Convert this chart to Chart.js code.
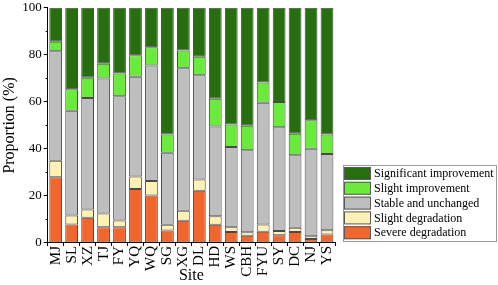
<!DOCTYPE html>
<html>
<head>
<meta charset="utf-8">
<script src="https://cdn.jsdelivr.net/npm/chart.js@4.4.0/dist/chart.umd.min.js"></script>
<style>
  html, body { margin: 0; padding: 0; background: #fff; }
  #wrap { width: 498px; height: 285px; position: relative; }
</style>
</head>
<body>
<div id="wrap"><canvas id="chart"></canvas></div>
<script>
const sites = ['MJ', 'SL', 'XZ', 'TJ', 'FY', 'YQ', 'WQ', 'SG', 'XG', 'DL', 'HD', 'WS', 'CBH', 'FYU', 'SY', 'DC', 'NJ', 'YS'];

// proportions (%) per site
const severeDegradation = [28.0, 7.8, 10.7, 6.7, 6.7, 22.9, 20.2, 5.3, 9.4, 22.2, 7.7, 4.7, 3.1, 4.8, 3.3, 4.7, 1.7, 3.6];
const slightDegradation = [7.0, 3.9, 3.5, 5.8, 2.8, 5.4, 6.1, 2.4, 4.3, 4.8, 3.7, 2.0, 1.5, 3.0, 1.8, 1.8, 1.1, 1.8];
const stableUnchanged = [46.5, 44.5, 47.5, 57.5, 52.9, 42.4, 49.2, 30.7, 60.6, 44.3, 38.1, 34.1, 34.8, 51.8, 44.1, 30.8, 37.3, 32.4];
const slightImprovement = [4.1, 9.2, 8.6, 6.2, 9.7, 9.1, 7.7, 7.7, 7.6, 7.9, 11.8, 9.6, 10.5, 8.7, 10.8, 9.1, 12.1, 8.3];
const significantImprovement = [14.4, 34.6, 29.7, 23.8, 27.9, 20.2, 16.8, 53.9, 18.1, 20.8, 38.7, 49.6, 50.1, 31.7, 40.0, 53.6, 47.8, 53.9];

const yTicks = [0, 20, 40, 60, 80, 100];
const yMinorTicks = [10, 30, 50, 70, 90];

const serif = '"Liberation Serif", "Times New Roman", serif';

function makeSet(label, data, color) {
    return {
        label: label,
        data: data,
        backgroundColor: color,
        borderColor: '#4a4a4a',
        borderWidth: 1,
        borderSkipped: false,
        barPercentage: 0.8,
        categoryPercentage: 1.0
    };
}

// small outward minor ticks on the y axis
const minorTicks = {
    id: 'minorTicks',
    afterDraw(chart) {
        const ctx = chart.ctx;
        const y = chart.scales.y;
        ctx.save();
        ctx.strokeStyle = '#000';
        ctx.lineWidth = 1;
        yMinorTicks.forEach(v => {
            const py = Math.round(y.getPixelForValue(v)) + 0.5;
            ctx.beginPath();
            ctx.moveTo(y.right - 2, py);
            ctx.lineTo(y.right, py);
            ctx.stroke();
        });
        ctx.restore();
    }
};

// legend box drawn inside the free space at the right, top entry = last dataset
const boxLegend = {
    id: 'boxLegend',
    afterDraw(chart) {
        const ctx = chart.ctx;
        const x = 343, y = 165, w = 153, h = 76;
        ctx.save();
        ctx.fillStyle = '#fff';
        ctx.fillRect(x, y, w, h);
        ctx.strokeStyle = '#9a9a9a';
        ctx.lineWidth = 1;
        ctx.strokeRect(x + 0.5, y + 0.5, w, h);
        const sets = chart.data.datasets.slice().reverse();
        ctx.font = '12px ' + serif;
        ctx.textBaseline = 'middle';
        sets.forEach((ds, i) => {
            const top = y + 2 + i * 14.8;
            ctx.fillStyle = ds.backgroundColor;
            ctx.fillRect(x + 1, top, 27, 13);
            ctx.strokeStyle = '#5a5a5a';
            ctx.strokeRect(x + 1.5, top + 0.5, 26, 12);
            ctx.fillStyle = '#000';
            ctx.fillText(ds.label, x + 31, top + 7);
        });
        ctx.restore();
    }
};

new Chart(document.getElementById('chart'), {
    type: 'bar',
    data: {
        labels: sites,
        datasets: [
            makeSet('Severe degradation', severeDegradation, '#f0662c'),
            makeSet('Slight degradation', slightDegradation, '#fff0b4'),
            makeSet('Stable and unchanged', stableUnchanged, '#bebebe'),
            makeSet('Slight improvement', slightImprovement, '#6aea3a'),
            makeSet('Significant improvement', significantImprovement, '#276e0e')
        ]
    },
    options: {
        responsive: true,
        maintainAspectRatio: false,
        animation: false,
        layout: { padding: { top: 0, right: 163, left: 0, bottom: 0 } },
        plugins: {
            legend: { display: false },
            tooltip: { enabled: false }
        },
        scales: {
            x: {
                stacked: true,
                border: { display: true, color: '#000', width: 1 },
                grid: { drawOnChartArea: false, drawTicks: true, tickLength: 3, color: '#000' },
                ticks: {
                    color: '#000',
                    font: { family: serif, size: 15 },
                    maxRotation: 90,
                    minRotation: 90,
                    autoSkip: false,
                    padding: 0
                },
                title: {
                    display: true,
                    text: 'Site',
                    color: '#000',
                    font: { family: serif, size: 16 },
                    padding: { top: -11, bottom: 0 }
                }
            },
            y: {
                stacked: true,
                min: 0,
                max: 100,
                afterBuildTicks: axis => { axis.ticks = yTicks.map(v => ({ value: v })); },
                border: { display: true, color: '#000', width: 1 },
                grid: { drawOnChartArea: false, drawTicks: true, tickLength: 4, color: '#000' },
                ticks: {
                    color: '#000',
                    font: { family: serif, size: 13, lineHeight: 0.9 },
                    padding: 2
                },
                title: {
                    display: true,
                    text: 'Proportion (%)',
                    color: '#000',
                    font: { family: serif, size: 16 },
                    padding: { top: 0, bottom: 1 }
                }
            }
        }
    },
    plugins: [minorTicks, boxLegend]
});
</script>
</body>
</html>
